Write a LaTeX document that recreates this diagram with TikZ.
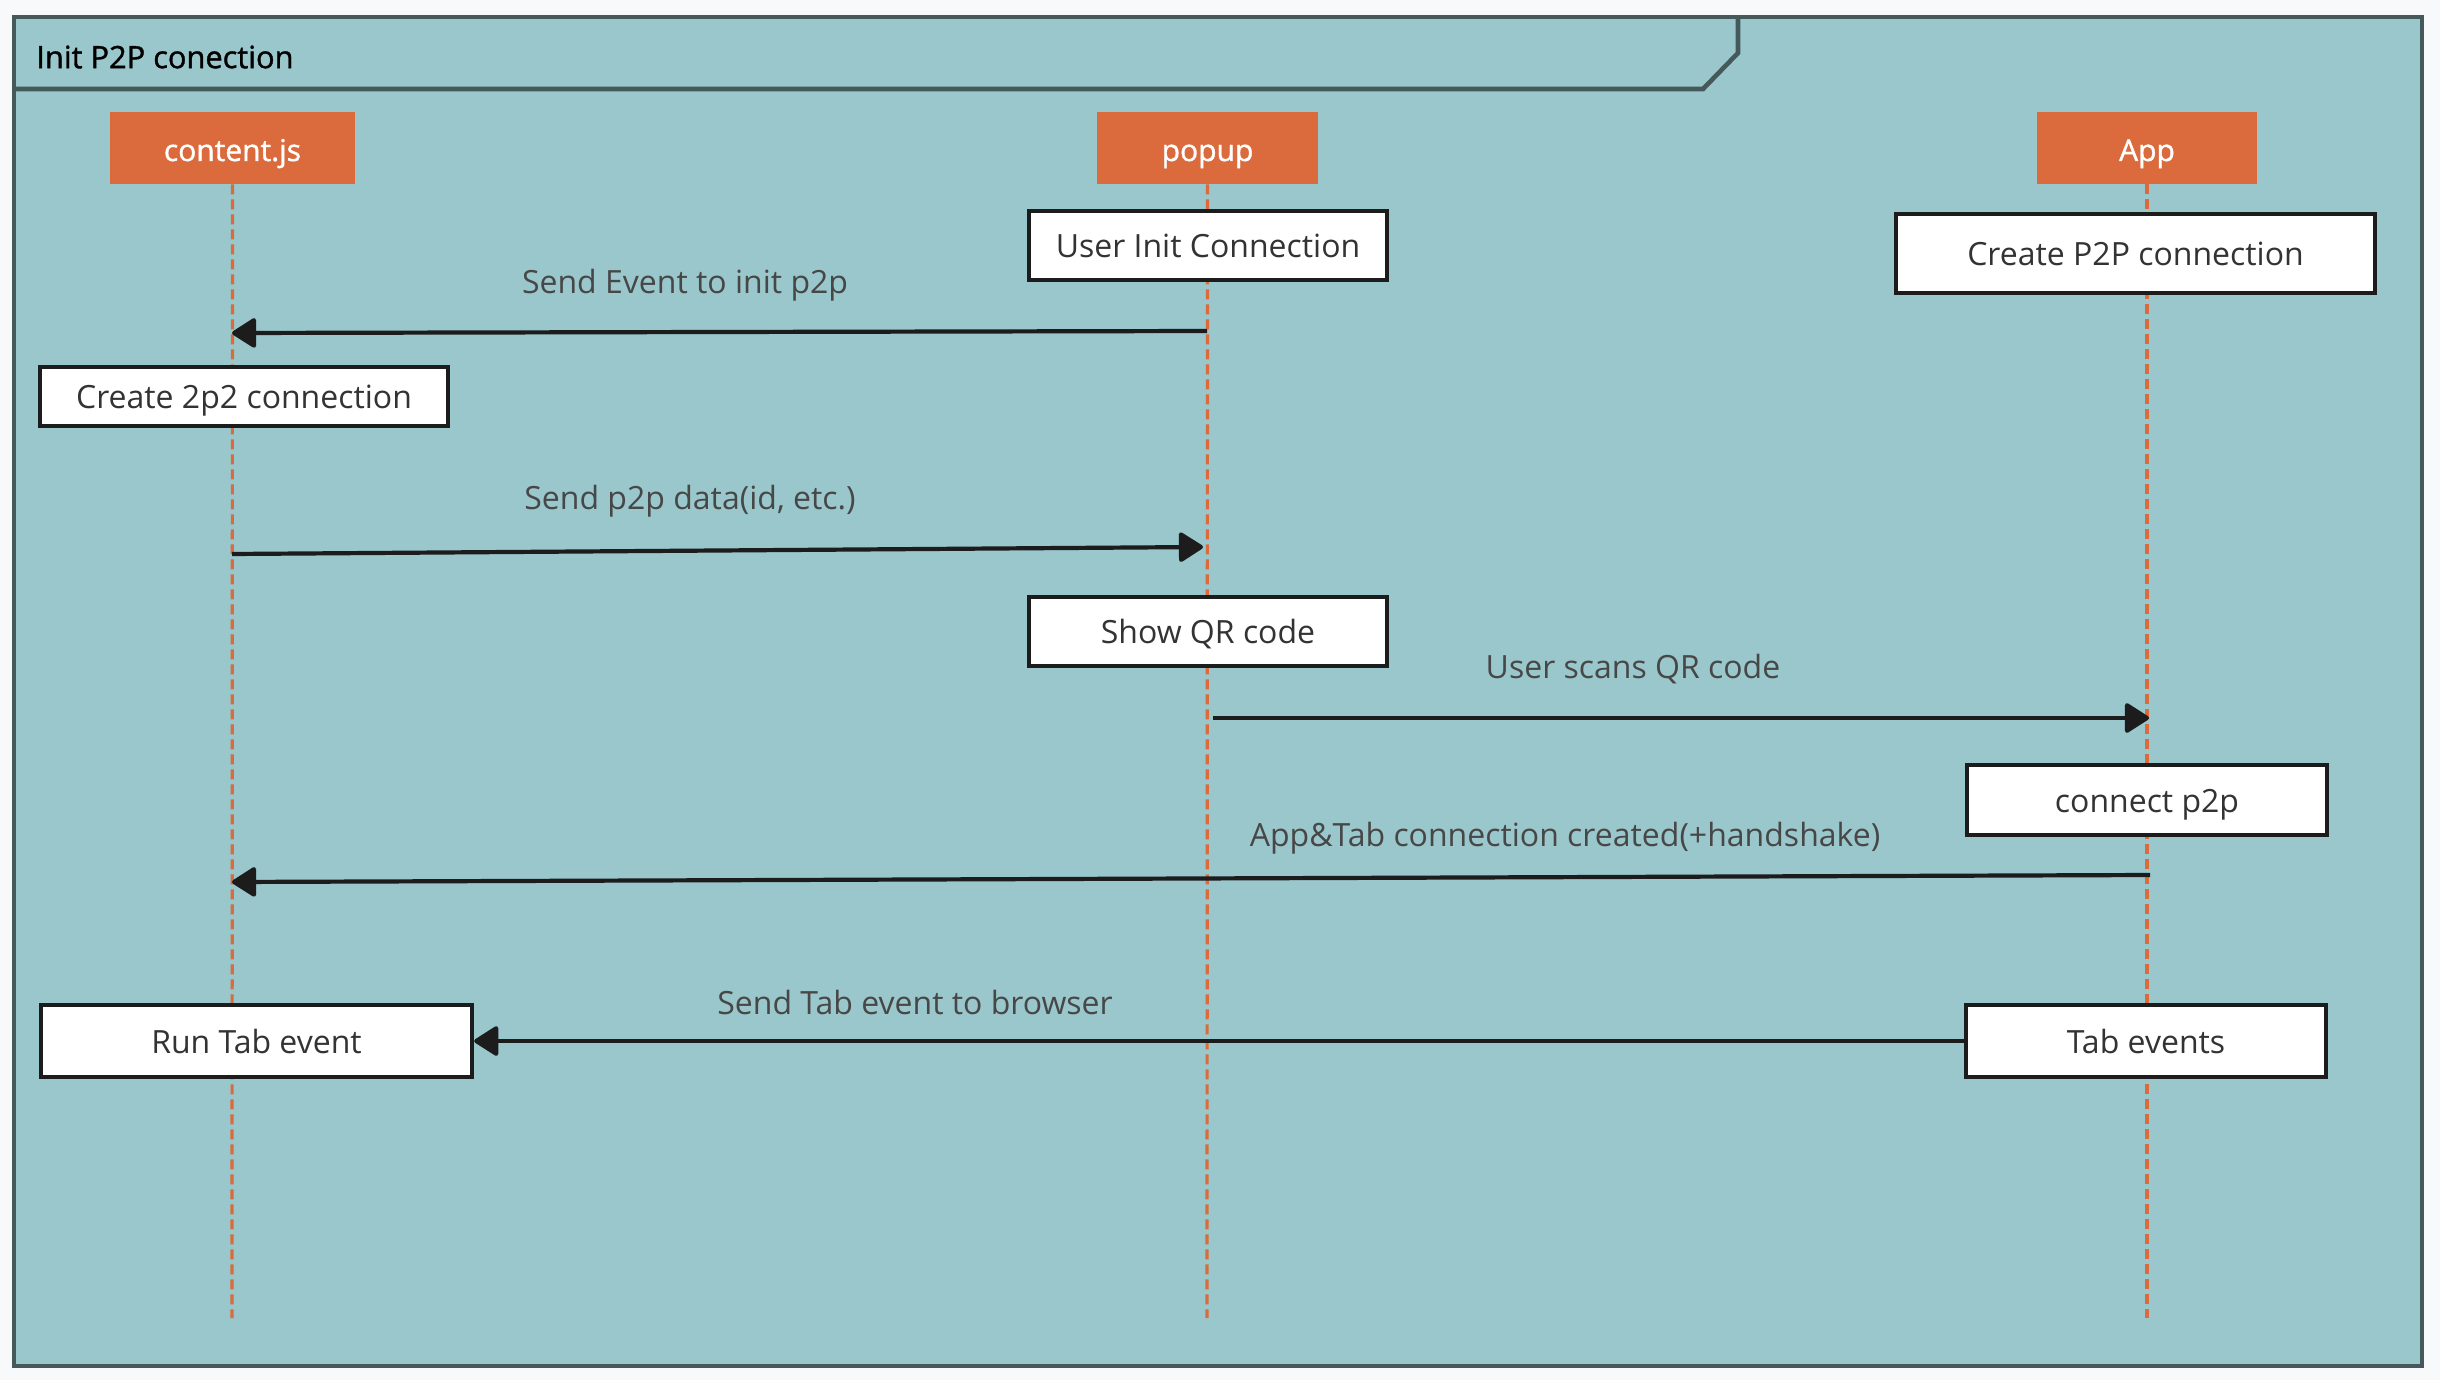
\documentclass[tikz,border=0pt]{standalone}
\usepackage{fontspec}
\setmainfont{Open Sans}
\newfontfamily\semib[FakeBold=1.2]{Open Sans}
\usetikzlibrary{arrows.meta}
\definecolor{pagebg}{HTML}{F8F9FB}
\definecolor{framefill}{HTML}{99C7CB}
\definecolor{frameline}{HTML}{46595A}
\definecolor{actorfill}{HTML}{DB6B3C}
\definecolor{labeltext}{HTML}{474747}
\definecolor{boxtext}{HTML}{333333}
\definecolor{arrowcol}{HTML}{1C1C1C}
\tikzset{
  actor/.style={fill=actorfill, draw=none, inner sep=0pt, text=white,
    font=\semib\fontsize{15}{18}\selectfont, minimum height=36pt,
    text height=13pt, text depth=0pt},
  stepbox/.style={fill=white, draw=arrowcol, line width=2.2pt, inner sep=0pt,
    text=boxtext, font=\fontsize{16}{19}\selectfont,
    text height=12pt, text depth=0pt},
  msglabel/.style={inner sep=0pt, text=labeltext, font=\fontsize{16}{19}\selectfont,
    text height=12.5pt, text depth=0pt},
  lifeline/.style={draw=actorfill, line width=1.6pt, dash pattern=on 5pt off 2.5pt},
  msg/.style={draw=arrowcol, line width=2.1pt, -{Triangle[length=13pt,width=16pt,round]}}
}
\begin{document}
\begin{tikzpicture}[x=0.5pt,y=-0.5pt]
\useasboundingbox (0,0) rectangle (2440,1380);
\fill[pagebg] (0,0) rectangle (2440,1380);
% frame
\draw[fill=framefill, draw=frameline, line width=2.3pt] (14,17) rectangle (2422,1366);
\draw[frameline, line width=2.3pt, line join=miter] (14,89) -- (1703,89) -- (1738,53) -- (1738,17);
\node[anchor=west, inner sep=0pt, text=black, font=\semib\fontsize{15.4}{18}\selectfont] (title) at (36,57) {Init P2P conection};

% actors
\node[actor, minimum width=122.5pt] (cjs) at (232.5,148) {content.js};
\node[actor, minimum width=110.5pt] (popup) at (1207.5,148) {popup};
\node[actor, minimum width=110pt] (app) at (2147,148) {App};

% lifeline ends
\coordinate (cjsEnd) at (232,1318);
\coordinate (popEnd) at (1207,1318);
\coordinate (appEnd) at (2147,1318);
\draw[lifeline] (cjs.south) -- (cjsEnd);
\draw[lifeline] (popup.south) -- (popEnd);
\draw[lifeline] (app.south) -- (appEnd);

% message end points on lifelines
\coordinate (m1s) at (1207,331);
\coordinate (m1e) at (232,333);
\coordinate (m2s) at (232,554);
\coordinate (m2e) at (1203,547);
\coordinate (m3s) at (1213,718);
\coordinate (m3e) at (2149,718);
\coordinate (m4s) at (2150,875);
\coordinate (m4e) at (232,882);

% boxes
\node[stepbox, minimum width=179pt, minimum height=34.5pt] (userinit) at (1208,245.5) {User Init Connection};
\node[stepbox, minimum width=239.5pt, minimum height=39.5pt] (createP2P) at (2135.5,253.5) {Create P2P connection};
\node[stepbox, minimum width=204pt, minimum height=29.5pt] (create2p2) at (244,396.5) {Create 2p2 connection};
\node[stepbox, minimum width=179pt, minimum height=34.5pt] (showqr) at (1208,631.5) {Show QR code};
\node[stepbox, minimum width=180pt, minimum height=35pt] (connect) at (2147,800) {connect p2p};
\node[stepbox, minimum width=215.5pt, minimum height=36pt] (runtab) at (256.5,1041) {Run Tab event};
\node[stepbox, minimum width=180pt, minimum height=36pt] (tabev) at (2146,1041) {Tab events};

% messages
\draw[msg] (m1s) -- (m1e);
\draw[msg] (m2s) -- (m2e);
\draw[msg] (m3s) -- (m3e);
\draw[msg] (m4s) -- (m4e);
\draw[msg] (tabev.west) -- (runtab.east);

% labels
\node[msglabel] (l1) at (685,281) {Send Event to init p2p};
\node[msglabel] (l2) at (690,497) {Send p2p data(id, etc.)};
\node[msglabel] (l3) at (1633,666) {User scans QR code};
\node[msglabel] (l4) at (1565,834) {App\&Tab connection created(+handshake)};
\node[msglabel] (l5) at (915,1002) {Send Tab event to browser};
\end{tikzpicture}
\end{document}
